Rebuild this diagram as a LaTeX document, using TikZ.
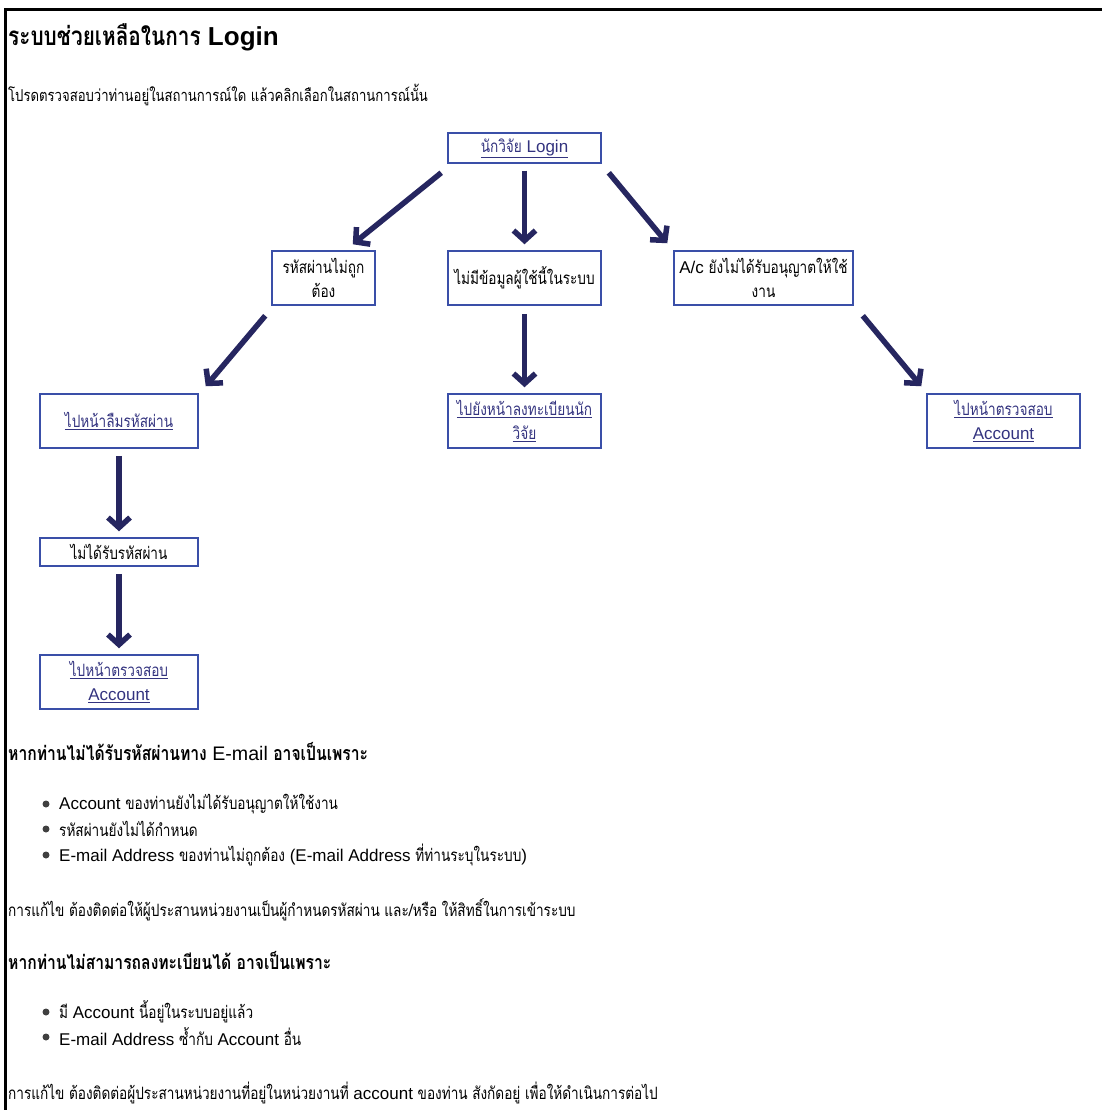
\documentclass[tikz,border=0pt]{standalone}
\usepackage{fontspec}
\setmainfont{Liberation Sans}
\newfontfamily\thaifont[Script=Thai,FakeStretch=0.8]{Loma}
\usetikzlibrary{arrows.meta,positioning,calc}

\definecolor{boxblue}{HTML}{3A4FA8}
\definecolor{linkblue}{HTML}{33337F}
\definecolor{arrowblue}{HTML}{262660}

\newcommand{\tha}[1]{{\thaifont #1}}
\newcommand{\lnk}[1]{\underline{#1}}

\tikzset{
  box/.style={draw=boxblue, line width=1.5pt, minimum width=153pt, minimum height=54pt,
    align=center, inner sep=2pt, font=\fontsize{17}{24}\selectfont},
  link/.style={text=linkblue},
  flow/.style={draw=arrowblue, line width=5.5pt, -{Straight Barb[length=10pt,width=22pt]}},
  txt/.style={anchor=west, inner sep=0pt, font=\fontsize{17}{20}\selectfont},
  head/.style={txt, font=\fontsize{19.6}{22}\selectfont\bfseries},
  dot/.style={circle, fill=black!75, inner sep=0pt, minimum size=7pt},
}

\begin{document}
\begin{tikzpicture}[x=1pt, y=-1pt]
\useasboundingbox (0,0) rectangle (1102,1110);

% page frame
\draw[line width=3pt] (5,1110) -- (5,10) -- (1102,10);

\node[anchor=west, inner sep=0pt, font=\fontsize{26}{30}\selectfont\bfseries] (title) at (8,37)
  {\tha{ระบบช่วยเหลือในการ} Login};
\node[txt, font=\fontsize{16.4}{20}\selectfont] (intro) at (8,95) {\tha{โปรดตรวจสอบว่าท่านอยู่ในสถานการณ์ใด แล้วคลิกเลือกในสถานการณ์นั้น}};

% flow boxes
\node[box, link, minimum height=30pt] (login) at (524.5,148) {\lnk{\tha{นักวิจัย} Login}};
\node[box, minimum width=103pt] (pw) at (323.5,278) {\tha{รหัสผ่านไม่ถูก}\\\tha{ต้อง}};
\node[box] (nodata) at (524.5,278) {\tha{ไม่มีข้อมูลผู้ใช้นี้ในระบบ}};
\node[box, minimum width=179pt] (ac) at (763.5,278) {A/c \tha{ยังไม่ได้รับอนุญาตให้ใช้}\\\tha{งาน}};
\node[box, link, minimum width=158pt] (forget) at (119,421) {\lnk{\tha{ไปหน้าลืมรหัสผ่าน}}};
\node[box, link] (reg) at (524.5,421) {\lnk{\tha{ไปยังหน้าลงทะเบียนนัก}}\\\lnk{\tha{วิจัย}}};
\node[box, link] (accr) at (1003.5,421) {\lnk{\tha{ไปหน้าตรวจสอบ}}\\\lnk{Account}};
\node[box, minimum width=158pt, minimum height=28pt] (notrecv) at (119,552) {\tha{ไม่ได้รับรหัสผ่าน}};
\node[box, link, minimum width=158pt] (accb) at (119,682) {\lnk{\tha{ไปหน้าตรวจสอบ}}\\\lnk{Account}};

% arrows
\draw[flow] ($(login.south west)+(-6,9)$) -- ($(pw.north east)+(-23,-6)$);
\draw[flow] ($(login.south)+(0,7)$) -- ($(nodata.north)+(0,-6)$);
\draw[flow] ($(login.south east)+(7,9)$) -- ($(ac.north west)+(-6,-7)$);
\draw[flow] ($(pw.south west)+(-6,10)$) -- ($(forget.north east)+(7,-7)$);
\draw[flow] ($(nodata.south)+(0,8)$) -- ($(reg.north)+(0,-6)$);
\draw[flow] ($(ac.south east)+(9,10)$) -- ($(accr.north west)+(-5,-7)$);
\draw[flow] ($(forget.south)+(0,7)$) -- ($(notrecv.north)+(0,-6)$);
\draw[flow] ($(notrecv.south)+(0,7)$) -- ($(accb.north)+(0,-6)$);

% notes below
\node[head] (why1) at (8,752) {\tha{หากท่านไม่ได้รับรหัสผ่านทาง} {\mdseries E-mail} \tha{อาจเป็นเพราะ}};
\node[dot] (d1) at (46,804) {};
\node[txt] (r1) at (59,804) {Account \tha{ของท่านยังไม่ได้รับอนุญาตให้ใช้งาน}};
\node[dot] (d2) at (46,829) {};
\node[txt] (r2) at (59,829) {\tha{รหัสผ่านยังไม่ได้กำหนด}};
\node[dot] (d3) at (46,855) {};
\node[txt] (r3) at (59,855) {E-mail Address \tha{ของท่านไม่ถูกต้อง} (E-mail Address \tha{ที่ท่านระบุในระบบ})};
\node[txt] (fix1) at (8,910) {\tha{การแก้ไข ต้องติดต่อให้ผู้ประสานหน่วยงานเป็นผู้กำหนดรหัสผ่าน และ/หรือ ให้สิทธิ์ในการเข้าระบบ}};

\node[head] (why2) at (8,960) {\tha{หากท่านไม่สามารถลงทะเบียนได้ อาจเป็นเพราะ}};
\node[dot] (d4) at (46,1012) {};
\node[txt] (r4) at (59,1012) {\tha{มี} Account \tha{นี้อยู่ในระบบอยู่แล้ว}};
\node[dot] (d5) at (46,1037) {};
\node[txt] (r5) at (59,1037) {E-mail Address \tha{ซ้ำกับ} Account \tha{อื่น}};
\node[txt] (fix2) at (8,1093) {\tha{การแก้ไข ต้องติดต่อผู้ประสานหน่วยงานที่อยู่ในหน่วยงานที่} account \tha{ของท่าน สังกัดอยู่ เพื่อให้ดำเนินการต่อไป}};
\end{tikzpicture}
\end{document}
